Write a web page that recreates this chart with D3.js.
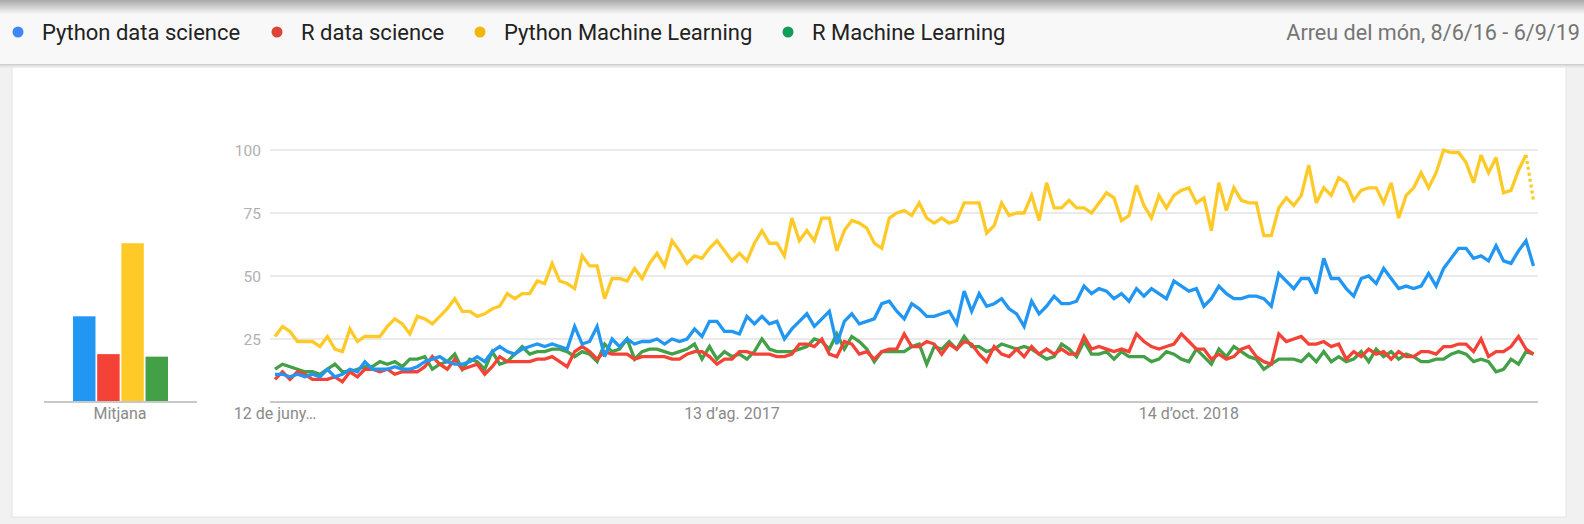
<!DOCTYPE html>
<html>
<head>
<meta charset="utf-8">
<script src="https://cdn.jsdelivr.net/npm/d3@7"></script>
<style>
  html, body { margin: 0; padding: 0; background: #f1f1f1; }
  svg { display: block; font-family: Roboto, "Noto Sans", Arial, sans-serif; }
</style>
</head>
<body>
<svg id="chart" width="1584" height="524"></svg>
<script>
// ---------------- DATA ----------------
const seriesNames = ["Python data science", "R data science", "Python Machine Learning", "R Machine Learning"];
const weekStart = "2016-06-12";
const dateRangeLabel = "Arreu del món, 8/6/16 - 6/9/19";
const averageLabel = "Mitjana";
const averages = [34, 19, 63, 18];
const yTicks = [25, 50, 75, 100];
const xTickDates = ["2016-06-12", "2017-08-13", "2018-10-14"];
const xTickLabels = ["12 de juny…", "13 d’ag. 2017", "14 d’oct. 2018"];

const pythonDataScience = [
  11,11,10,11,10,11,10,13,10,11, 13,12,16,13,13,13,14,13,13,14,
  16,17,18,16,15,15,16,18,16,20, 22,20,19,21,22,23,22,23,22,21,
  30,23,24,30,18,25,22,25,23,24, 24,25,23,25,24,25,29,26,32,32,
  28,28,27,34,31,34,31,32,25,29, 32,35,30,33,36,23,32,35,31,32,
  33,39,40,36,33,39,37,34,34,35, 36,31,44,36,43,38,39,41,37,35,
  30,40,35,38,42,39,39,40,46,43, 45,44,41,43,40,45,42,45,43,41,
  48,46,44,45,38,41,46,43,41,41, 42,42,41,38,51,48,45,49,49,43,
  57,49,49,45,42,49,50,47,53,49, 45,46,45,46,51,46,53,57,61,61,
  57,58,56,62,56,55,60,64,54
];
const rDataScience = [
  9,12,9,12,11,9,9,9,10,8, 12,10,13,13,12,13,11,12,12,12,
  14,18,15,13,17,13,14,15,11,14, 18,16,16,16,16,17,17,18,16,14,
  20,22,20,17,20,19,19,19,17,18, 18,18,18,17,17,19,20,20,18,15,
  17,17,20,20,19,19,19,18,18,19, 23,23,22,25,19,18,24,23,19,20,
  17,20,21,21,27,22,22,24,23,19, 23,21,24,23,19,16,22,19,18,21,
  18,22,19,21,19,21,19,19,26,21, 22,21,20,21,20,27,24,22,21,22,
  23,27,24,21,21,17,19,17,18,21, 22,18,16,15,27,24,25,26,23,23,
  24,22,23,17,20,18,21,19,20,17, 20,18,18,20,20,19,22,22,23,23,
  20,25,18,20,20,22,26,21,19
];
const pythonMachineLearning = [
  26,30,28,24,24,24,22,26,21,20, 29,24,26,26,26,30,33,31,27,34,
  33,31,34,37,41,36,36,34,35,37, 38,43,41,43,43,48,47,55,48,47,
  45,58,54,54,41,49,49,48,53,49, 55,59,54,64,60,55,58,57,61,64,
  60,56,59,56,63,68,63,63,58,73, 64,68,64,73,73,60,68,72,71,69,
  63,61,73,75,76,74,79,73,71,73, 71,72,79,79,79,67,70,79,74,75,
  75,82,72,87,77,77,80,77,77,75, 79,83,81,72,74,86,78,73,82,77,
  82,84,85,79,81,68,87,76,85,80, 79,79,66,66,77,81,78,82,94,79,
  85,82,89,87,80,84,85,85,79,87, 73,82,85,91,85,91,100,99,99,95,
  87,98,91,97,83,84,92,98,80
];
const rMachineLearning = [
  13,15,14,13,12,12,11,13,15,12, 12,13,14,14,16,15,16,14,17,17,
  18,13,15,16,19,13,17,16,13,20, 15,16,19,22,19,20,20,21,21,20,
  18,20,19,16,23,20,21,25,17,20, 21,21,20,19,20,21,23,17,22,17,
  20,18,19,17,20,25,21,20,20,20, 21,22,25,24,21,27,21,26,24,21,
  16,20,20,20,20,22,23,15,22,21, 24,21,26,22,22,20,21,23,22,21,
  22,21,19,17,18,23,21,18,24,19, 19,20,17,20,18,18,18,16,17,20,
  19,17,16,21,18,15,21,18,22,20, 18,17,13,15,17,17,17,16,19,16,
  20,16,18,16,17,20,16,21,18,20, 17,19,18,16,16,17,17,19,20,19,
  16,17,16,12,13,17,15,20,19
];
const seriesValues = [pythonDataScience, rDataScience, pythonMachineLearning, rMachineLearning];
const lineColors = ["#2196f3", "#f44336", "#ffca28", "#43a047"];
const dotColors = ["#4285f4", "#db4437", "#f4b400", "#0f9d58"];
const dottedLast = [false, false, true, false];

// ---------------- DRAW ----------------
const W = 1584, H = 524;
const svg = d3.select("#chart");
const defs = svg.append("defs");
const g1 = defs.append("linearGradient").attr("id", "topShadow").attr("x1", 0).attr("y1", 0).attr("x2", 0).attr("y2", 1);
g1.append("stop").attr("offset", "0%").attr("stop-color", "#a8a8a8");
g1.append("stop").attr("offset", "100%").attr("stop-color", "#f8f8f8");
const g2 = defs.append("linearGradient").attr("id", "botShadow").attr("x1", 0).attr("y1", 0).attr("x2", 0).attr("y2", 1);
g2.append("stop").attr("offset", "0%").attr("stop-color", "#c8c8c8");
g2.append("stop").attr("offset", "100%").attr("stop-color", "#f1f1f1");

// background + card
svg.append("rect").attr("x", 0).attr("y", 0).attr("width", W).attr("height", H).attr("fill", "#f1f1f1");
svg.append("rect").attr("x", 12).attr("y", 64).attr("width", 1554).attr("height", 453)
  .attr("fill", "#ffffff").attr("stroke", "#e4e4e4").attr("stroke-width", 1);
// header
svg.append("rect").attr("x", 0).attr("y", 0).attr("width", W).attr("height", 64).attr("fill", "#f8f8f8");
svg.append("rect").attr("x", 0).attr("y", 0).attr("width", W).attr("height", 14).attr("fill", "url(#topShadow)");
svg.append("rect").attr("x", 0).attr("y", 64).attr("width", W).attr("height", 4).attr("fill", "url(#botShadow)").attr("opacity", 0.8);
svg.append("line").attr("x1", 0).attr("x2", W).attr("y1", 64.5).attr("y2", 64.5).attr("stroke", "#cfcfcf");

// legend
const legendDotX = [18, 277, 480, 788];
const legend = svg.append("g");
seriesNames.forEach((name, i) => {
  legend.append("circle").attr("cx", legendDotX[i]).attr("cy", 32).attr("r", 5.5).attr("fill", dotColors[i]);
  legend.append("text").attr("x", legendDotX[i] + 24).attr("y", 32).attr("dy", "0.35em")
    .attr("font-size", 22).attr("fill", "#222").text(name);
});
svg.append("text").attr("x", 1580).attr("y", 32).attr("dy", "0.35em").attr("text-anchor", "end")
  .attr("font-size", 21.6).attr("fill", "#757575").text(dateRangeLabel);

// scales
const parse = d3.utcParse("%Y-%m-%d");
const start = parse(weekStart);
const dates = pythonDataScience.map((_, i) => d3.utcDay.offset(start, 7 * i));
const x = d3.scaleUtc().domain([dates[0], dates[dates.length - 1]]).range([275, 1533.5]);
const y = d3.scaleLinear().domain([0, 100]).range([402, 150]);

// gridlines
const grid = svg.append("g");
grid.selectAll("line").data(yTicks).join("line")
  .attr("x1", 270).attr("x2", 1538).attr("y1", d => y(d)).attr("y2", d => y(d))
  .attr("stroke", "#e3e3e3").attr("stroke-width", 1.5);
grid.selectAll("text").data(yTicks).join("text")
  .attr("x", 261).attr("y", d => y(d)).attr("dy", "0.36em").attr("text-anchor", "end")
  .attr("font-size", 15.5).attr("fill", "#b0b0b0").text(d => d);
svg.append("line").attr("x1", 270).attr("x2", 1538).attr("y1", y(0)).attr("y2", y(0))
  .attr("stroke", "#c8c8c8").attr("stroke-width", 2);

// x tick labels
svg.append("g").selectAll("text").data(xTickDates).join("text")
  .attr("x", d => x(parse(d))).attr("y", 413).attr("dy", "0.36em").attr("text-anchor", "middle")
  .attr("font-size", 16).attr("fill", "#8a8a8a").text((d, i) => xTickLabels[i]);

// lines
const line = d3.line().x(d => x(d[0])).y(d => y(d[1])).curve(d3.curveLinear);
const lines = svg.append("g").attr("fill", "none").attr("stroke-width", 3.3).attr("stroke-linejoin", "miter").attr("stroke-miterlimit", 3);
[3, 1, 0, 2].forEach(si => {
  const pts = seriesValues[si].map((v, i) => [dates[i], v]);
  if (dottedLast[si]) {
    lines.append("path").attr("d", line(pts.slice(0, pts.length - 1))).attr("stroke", lineColors[si]);
    lines.append("path").attr("d", line(pts.slice(pts.length - 2))).attr("stroke", lineColors[si])
      .attr("stroke-dasharray", "3,3");
  } else {
    lines.append("path").attr("d", line(pts)).attr("stroke", lineColors[si]);
  }
});

// average bars
const xb = d3.scaleBand().domain(seriesNames).range([73, 168]).paddingInner(0.07);
svg.append("g").selectAll("rect").data(averages).join("rect")
  .attr("x", (d, i) => xb(seriesNames[i])).attr("width", xb.bandwidth())
  .attr("y", d => y(d)).attr("height", d => y(0) - y(d))
  .attr("fill", (d, i) => lineColors[i]);
svg.append("line").attr("x1", 44).attr("x2", 197).attr("y1", y(0)).attr("y2", y(0))
  .attr("stroke", "#c8c8c8").attr("stroke-width", 2);
svg.append("text").attr("x", 120).attr("y", 413).attr("dy", "0.36em").attr("text-anchor", "middle")
  .attr("font-size", 16).attr("fill", "#8a8a8a").text(averageLabel);
</script>
</body>
</html>
